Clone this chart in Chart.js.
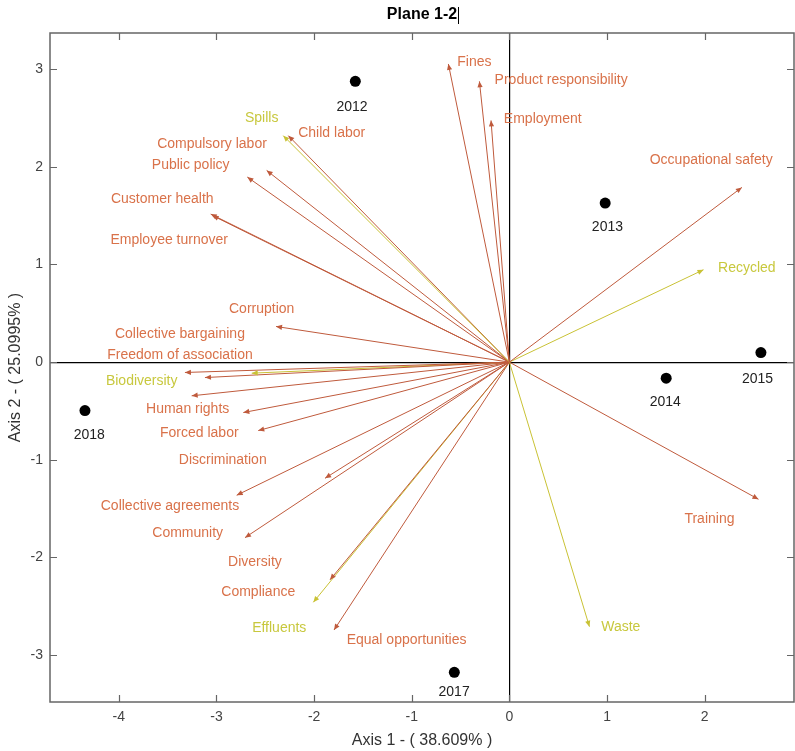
<!DOCTYPE html>
<html>
<head>
<meta charset="utf-8">
<script src="https://cdn.jsdelivr.net/npm/chart.js@4/dist/chart.umd.min.js"></script>
<style>
html,body{margin:0;padding:0;background:#fff}
#wrap{width:795px;height:751px}
</style>
</head>
<body>
<div id="wrap"><canvas id="c" width="795" height="751"></canvas></div>
<script>
(function(){
// variables (arrows): tip coordinates
var vecNames = ["Fines","Product responsibility","Employment","Occupational safety","Recycled","Training","Waste",
  "Spills","Child labor","Compulsory labor","Public policy","Customer health","Employee turnover","Corruption",
  "Collective bargaining","Freedom of association","Biodiversity","Human rights","Forced labor","Discrimination",
  "Collective agreements","Community","Diversity","Compliance","Effluents","Equal opportunities"];
var vecX = [-0.625,-0.307,-0.188,2.381,1.988,2.551,0.820,
  -2.316,-2.264,-2.486,-2.684,-3.059,-3.040,-2.390,
  -3.323,-3.118,-2.639,-3.254,-2.725,-2.572,
  -2.793,-2.708,-1.888,-1.837,-2.008,-1.796];
var vecY = [3.053,2.875,2.475,1.789,0.946,-1.404,-2.709,
  2.319,2.319,1.963,1.895,1.516,1.500,0.365,
  -0.106,-0.158,-0.113,-0.345,-0.516,-0.701,
  -1.363,-1.797,-1.189,-2.229,-2.459,-2.743];
var vecGroup = ["s","s","s","s","e","s","e",
  "e","s","s","s","s","s","s",
  "s","s","e","s","s","s",
  "s","s","s","s","e","s"];
// where each name sits (centre of text, in axis units)
var labX = [-0.359,0.530,0.342,2.067,2.432,2.049,1.141,
  -2.537,-1.820,-3.046,-3.264,-3.555,-3.484,-2.537,
  -3.374,-3.374,-3.766,-3.295,-3.176,-2.936,
  -3.476,-3.295,-2.606,-2.572,-2.357,-1.053];
var labY = [3.070,2.892,2.493,2.073,0.963,-1.606,-2.709,
  2.500,2.346,2.237,2.014,1.673,1.246,0.543,
  0.290,0.068,-0.199,-0.486,-0.724,-1.001,
  -1.479,-1.746,-2.049,-2.353,-2.722,-2.845];

// individuals (years)
var years = ["2012","2013","2014","2015","2017","2018"];
var yearX = [-1.578,0.981,1.606,2.576,-0.564,-4.347];
var yearY = [2.875,1.629,-0.164,0.098,-3.176,-0.496];
var yearLabX = [-1.612,1.004,1.596,2.541,-0.566,-4.303];
var yearLabY = [2.613,1.379,-0.413,-0.174,-3.375,-0.745];

var xTicks = [-4,-3,-2,-1,0,1,2];
var yTicks = [-3,-2,-1,0,1,2,3];

var FONT = '"Liberation Sans", Arial, sans-serif';
var COL = {
  s: { line:"#bf5a3c", text:"#d9724a" },
  e: { line:"#c9c235", text:"#c8c83e" }
};

var datasets = [];
for (var i=0;i<vecNames.length;i++){
  var c = COL[vecGroup[i]];
  datasets.push({
    label: vecNames[i],
    data: [{x:0,y:0},{x:vecX[i],y:vecY[i]}],
    showLine: true,
    borderColor: c.line,
    backgroundColor: c.line,
    borderWidth: 1,
    pointRadius: 0,
    pointHoverRadius: 0
  });
}
var yearPts = [];
for (var k=0;k<years.length;k++){ yearPts.push({x:yearX[k], y:yearY[k]}); }
datasets.push({
  label: "years",
  data: yearPts,
  showLine: false,
  pointRadius: 5.5,
  pointBackgroundColor: "#000",
  pointBorderWidth: 0,
  borderColor: "#000"
});

var overlay = {
  id: "overlay",
  afterDatasetsDraw: function(chart){
    var ctx = chart.ctx;
    ctx.save();
    for (var i=0;i<vecNames.length;i++){
      var meta = chart.getDatasetMeta(i);
      var p0 = meta.data[0], p1 = meta.data[1];
      var a = Math.atan2(p1.y-p0.y, p1.x-p0.x);
      var L = 6, W = 2.6;
      ctx.fillStyle = COL[vecGroup[i]].line;
      ctx.beginPath();
      ctx.moveTo(p1.x, p1.y);
      ctx.lineTo(p1.x - L*Math.cos(a) + W*Math.sin(a), p1.y - L*Math.sin(a) - W*Math.cos(a));
      ctx.lineTo(p1.x - L*Math.cos(a) - W*Math.sin(a), p1.y - L*Math.sin(a) + W*Math.cos(a));
      ctx.closePath();
      ctx.fill();
    }
    ctx.restore();
  },
  afterDraw: function(chart){
    var ctx = chart.ctx, ca = chart.chartArea;
    var sx = chart.scales.x, sy = chart.scales.y;
    ctx.save();
    // box
    ctx.strokeStyle = "#666";
    ctx.lineWidth = 1.5;
    ctx.strokeRect(ca.left, ca.top, ca.right-ca.left, ca.bottom-ca.top);
    // inward ticks on all four sides
    ctx.lineWidth = 1.2;
    ctx.beginPath();
    var T = 7, i, px;
    for (i=0;i<xTicks.length;i++){
      px = Math.round(sx.getPixelForValue(xTicks[i])) + 0.5;
      ctx.moveTo(px, ca.bottom); ctx.lineTo(px, ca.bottom - T);
      ctx.moveTo(px, ca.top); ctx.lineTo(px, ca.top + T);
    }
    for (i=0;i<yTicks.length;i++){
      px = Math.round(sy.getPixelForValue(yTicks[i])) + 0.5;
      ctx.moveTo(ca.left, px); ctx.lineTo(ca.left + T, px);
      ctx.moveTo(ca.right, px); ctx.lineTo(ca.right - T, px);
    }
    ctx.stroke();

    // variable names
    ctx.font = "14px " + FONT;
    ctx.textAlign = "center";
    ctx.textBaseline = "middle";
    for (i=0;i<vecNames.length;i++){
      ctx.fillStyle = COL[vecGroup[i]].text;
      ctx.fillText(vecNames[i], sx.getPixelForValue(labX[i]), sy.getPixelForValue(labY[i]));
    }
    // year names
    ctx.fillStyle = "#222";
    for (i=0;i<years.length;i++){
      ctx.fillText(years[i], sx.getPixelForValue(yearLabX[i]), sy.getPixelForValue(yearLabY[i]));
    }
    // title
    var cx = (ca.left + ca.right)/2;
    ctx.fillStyle = "#000";
    ctx.font = "bold 16px " + FONT;
    ctx.fillText("Plane 1-2", cx, 15);
    var tw = ctx.measureText("Plane 1-2").width;
    ctx.fillRect(Math.round(cx + tw/2 + 1), 7, 1, 17);
    ctx.restore();
  }
};

new Chart(document.getElementById("c"), {
  type: "scatter",
  data: { datasets: datasets },
  options: {
    responsive: false,
    animation: false,
    events: [],
    layout: { autoPadding: false, padding: { top: 33, right: 1, left: 0, bottom: 0 } },
    plugins: { legend: { display: false }, tooltip: { enabled: false }, title: { display: false } },
    scales: {
      x: {
        type: "linear",
        min: -4.705, max: 2.915,
        afterBuildTicks: function(s){ s.ticks = xTicks.map(function(v){ return {value:v}; }); },
        afterFit: function(s){ s.height = 49; },
        grid: {
          drawTicks: false,
          lineWidth: 1.2,
          color: function(c){ return (c.tick && c.tick.value === 0) ? "#000" : "rgba(0,0,0,0)"; }
        },
        border: { display: false },
        ticks: { color: "#444", padding: 7, maxRotation: 0, font: { family: FONT, size: 14 } },
        title: { display: true, text: "Axis 1 - ( 38.609% )", color: "#333",
                 font: { family: FONT, size: 16 }, padding: { top: 0, bottom: 1 } }
      },
      y: {
        type: "linear",
        min: -3.48, max: 3.37,
        afterBuildTicks: function(s){ s.ticks = yTicks.map(function(v){ return {value:v}; }); },
        afterFit: function(s){ s.width = 50; },
        grid: {
          drawTicks: false,
          lineWidth: 1.2,
          color: function(c){ return (c.tick && c.tick.value === 0) ? "#000" : "rgba(0,0,0,0)"; }
        },
        border: { display: false },
        ticks: { color: "#444", padding: 7, font: { family: FONT, size: 14 } },
        title: { display: true, text: "Axis 2 - ( 25.0995% )", color: "#333",
                 font: { family: FONT, size: 16 }, padding: { top: 6, bottom: 0 } }
      }
    }
  },
  plugins: [overlay]
});
})();
</script>
</body>
</html>
